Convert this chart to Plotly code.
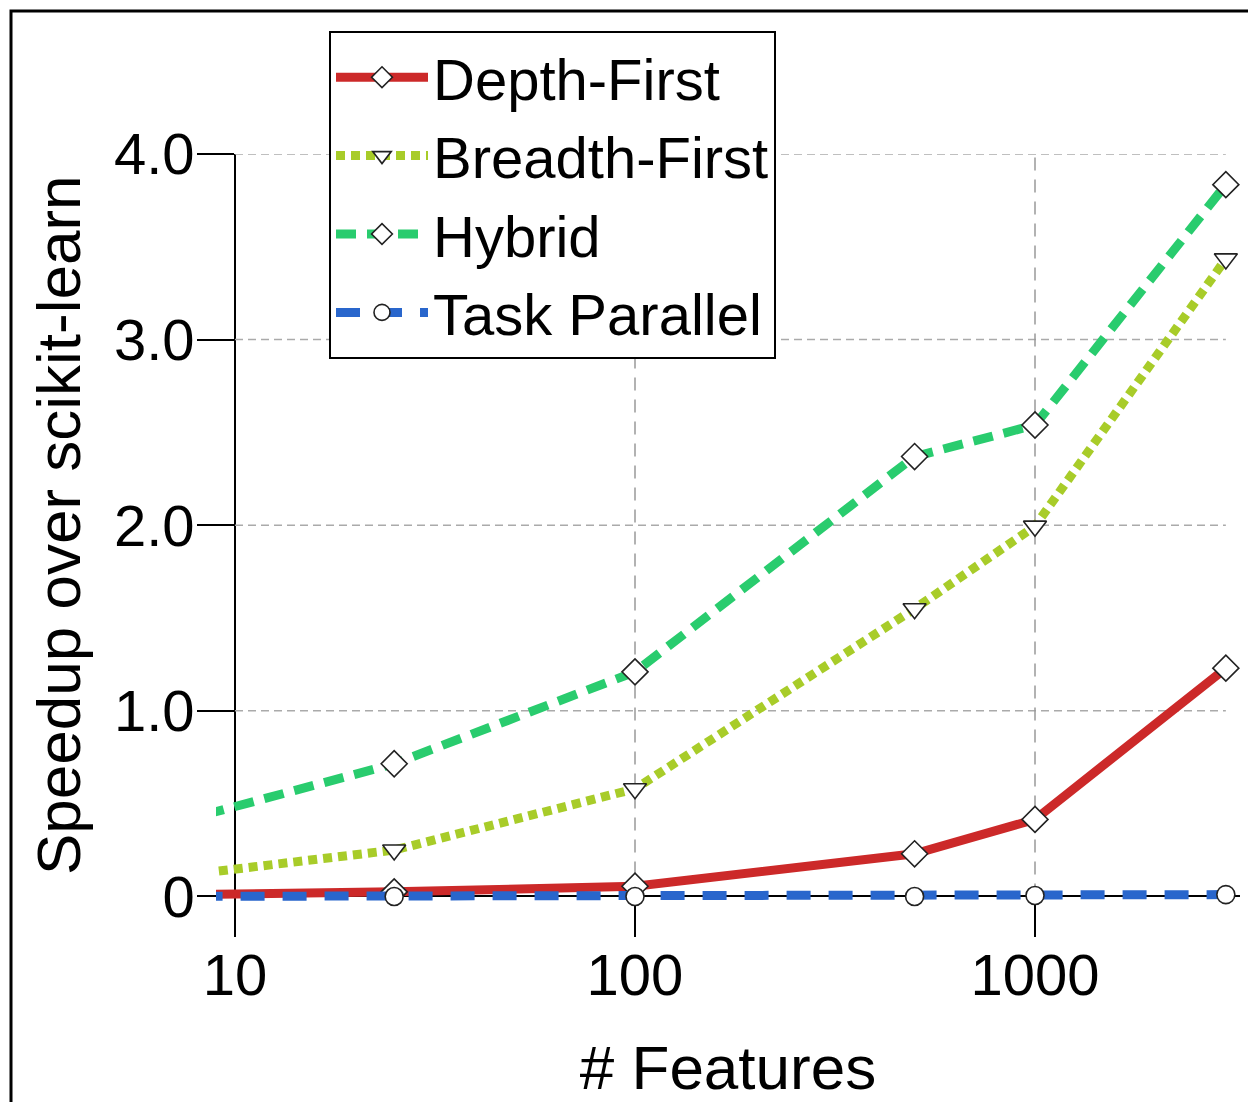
import plotly.graph_objects as go

# ---------------- data ----------------
features = [5, 25, 100, 500, 1000, 3000]
depth_first = [0.005, 0.025, 0.055, 0.23, 0.415, 1.23]
breadth_first = [0.07, 0.25, 0.58, 1.55, 1.995, 3.435]
hybrid = [0.31, 0.715, 1.21, 2.37, 2.54, 3.835]
task_parallel = [0.0, 0.0, 0.0, 0.0, 0.005, 0.01]

series_names = ["Depth-First", "Breadth-First", "Hybrid", "Task Parallel"]

x_ticks = [10, 100, 1000]
x_tick_labels = ["10", "100", "1000"]
y_ticks = [0, 1, 2, 3, 4]
y_tick_labels = ["0", "1.0", "2.0", "3.0", "4.0"]

# ---------------- styling ----------------
OFF = 8                      # page body margin of the html page
W, H = 1256 - OFF, 1102 - OFF
ML, MR, MT, MB = 216 - OFF, 16, 154 - OFF, 166
XRANGE = [0.9525, 3.5125]          # log10 units
YRANGE = [-0.213, 4.0]
FONT = "Liberation Sans, Arial, Helvetica, sans-serif"

colors = ["#CC2929", "#A8CC29", "#29CC6E", "#2966CC"]
dashes = ["solid", "9px,6px", "20px,11px", "24px,18px"]
symbols = ["diamond", "triangle-down", "diamond", "circle"]
msizes = [20, 20, 20, 18]

pw = W - ML - MR
ph = H - MT - MB


def px_x(page_x):
    return (page_x - OFF - ML) / pw


def px_y(page_y):
    return (H - MB - (page_y - OFF)) / ph


fig = go.Figure()

# grid lines (drawn only inside the 10..max / 0..4 frame)
gx, gy = [], []
for v in y_ticks[1:]:
    gx += [x_ticks[0], features[-1], None]
    gy += [v, v, None]
fig.add_trace(go.Scatter(x=gx, y=gy, mode="lines", showlegend=False, hoverinfo="skip",
                         line=dict(color="#AAAAAA", width=1.5, dash="8px,5px")))
vx, vy = [], []
for v in x_ticks[1:]:
    vx += [v, v, None]
    vy += [y_ticks[0], y_ticks[-1], None]
fig.add_trace(go.Scatter(x=vx, y=vy, mode="lines", showlegend=False, hoverinfo="skip",
                         line=dict(color="#999999", width=1.5, dash="13px,9px")))

for name, ys, c, d, s, ms in zip(series_names,
                                 [depth_first, breadth_first, hybrid, task_parallel],
                                 colors, dashes, symbols, msizes):
    fig.add_trace(go.Scatter(
        x=features, y=ys, name=name, mode="lines+markers",
        line=dict(color=c, width=9, dash=d),
        marker=dict(symbol=s, size=ms, color="white",
                    line=dict(color="#222222", width=1.6)),
        cliponaxis=True,
    ))

xpos = (0 - YRANGE[0]) / (YRANGE[1] - YRANGE[0])
ypos = (1 - XRANGE[0]) / (XRANGE[1] - XRANGE[0])

fig.update_layout(
    width=W, height=H,
    margin=dict(l=ML, r=MR, t=MT, b=MB),
    paper_bgcolor="white", plot_bgcolor="white",
    font=dict(family=FONT, color="black"),
    xaxis=dict(
        type="log", range=XRANGE, anchor="free", position=xpos,
        tickvals=x_ticks, ticktext=x_tick_labels,
        ticks="outside", ticklen=40, tickwidth=1.5, tickcolor="black",
        ticklabelstandoff=-12,
        showline=True, linecolor="black", linewidth=1.5,
        showgrid=False, zeroline=False, layer="below traces",
        tickfont=dict(size=58, family=FONT, color="black"),
        title=dict(text="# Features", font=dict(size=62, family=FONT, color="black"),
                   standoff=40),
    ),
    yaxis=dict(
        range=YRANGE, anchor="free", position=ypos, side="left",
        tickvals=y_ticks, ticktext=y_tick_labels,
        ticks="outside", ticklen=37, tickwidth=1.5, tickcolor="black",
        ticklabelstandoff=-9,
        showline=True, linecolor="black", linewidth=1.5,
        showgrid=False, zeroline=False, layer="below traces",
        tickfont=dict(size=58, family=FONT, color="black"),
    ),
    legend=dict(
        x=px_x(329), y=px_y(31), xanchor="left", yanchor="top",
        bgcolor="white", bordercolor="black", borderwidth=2,
        itemwidth=92,
        font=dict(size=58, family=FONT, color="black"),
    ),
    annotations=[dict(
        text="Speedup over scikit-learn", textangle=-90,
        xref="paper", yref="paper",
        x=px_x(58), y=px_y(525),
        xanchor="center", yanchor="middle", showarrow=False,
        font=dict(size=62, family=FONT, color="black"),
    )],
    shapes=[dict(
        type="rect", xref="paper", yref="paper",
        x0=px_x(11), x1=1.3, y0=-0.5, y1=px_y(11),
        line=dict(color="black", width=3), fillcolor="rgba(0,0,0,0)", layer="above",
    )],
)

fig.write_html("out.html")
